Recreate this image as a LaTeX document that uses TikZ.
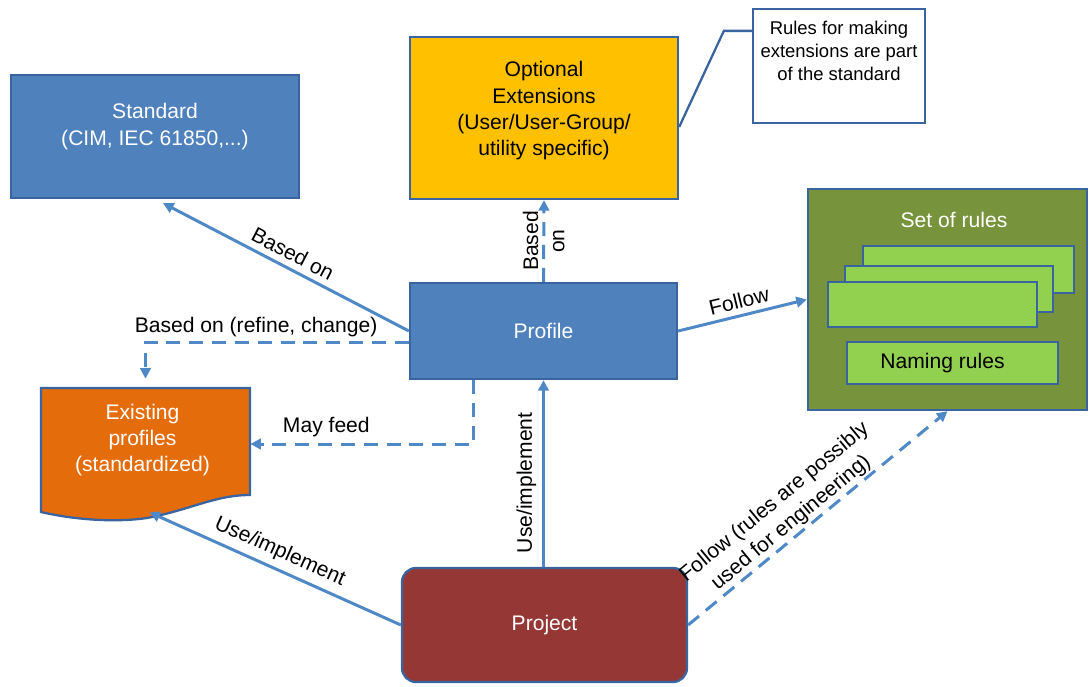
\documentclass[tikz,border=0pt]{standalone}
\usepackage{fontspec}
\setmainfont{Liberation Sans}
\usepackage{tikz}
\usepackage{xcolor}
\usetikzlibrary{calc,arrows.meta}

\definecolor{boxblue}{HTML}{4F81BD}
\definecolor{edgeblue}{HTML}{3A64A0}
\definecolor{lineblue}{HTML}{4F88C6}
\definecolor{extyellow}{HTML}{FFC000}
\definecolor{proforange}{HTML}{E46C0A}
\definecolor{projred}{HTML}{953735}
\definecolor{rulegreen}{HTML}{77933C}
\definecolor{lightgreen}{HTML}{92D050}

\begin{document}
\begin{tikzpicture}[x=0.2mm,y=-0.2mm]
        \tikzstyle{every node}=[font=\fontsize{12}{15}\selectfont]
        \tikzstyle{edge}=[draw=edgeblue,line width=1.3pt]
        \tikzstyle{box}=[edge,rectangle,inner sep=0pt]
        \tikzstyle{wtxt}=[text=white,align=center]
        \tikzstyle{link}=[draw=lineblue,line width=1.7pt,-{Triangle[length=6pt,width=6pt]}]
        \tikzstyle{dlink}=[link,dash pattern=on 8pt off 5pt]
        \useasboundingbox (0,0) rectangle (1089,686);

        % boxes
        \node[box,fill=boxblue,minimum width=57.6mm,minimum height=24.6mm] (std) at (155,136.5) {};
        \node[wtxt] (stdtxt) at ($(std)+(0,-10)$) {Standard\\(CIM, IEC 61850,...)};

        \node[box,fill=extyellow,minimum width=53.6mm,minimum height=32.4mm] (ext) at (544,118) {};
        \node[align=center] (exttxt) at ($(ext)+(0,-7)$) {Optional\\Extensions\\(User/User-Group/\\utility specific)};

        \node[box,fill=white,minimum width=34.4mm,minimum height=22.8mm,align=center,
              font=\fontsize{10.5}{13}\selectfont] (note) at (839,66)
              {Rules for making\\extensions are part\\of the standard\\[4pt]};
        \draw[edge] ($(note.north west)+(0,23)$) -- ++(-28,0) coordinate (elbow) -- ($(ext.east)+(0,9)$);

        \node[box,fill=boxblue,text=white,minimum width=53.4mm,minimum height=19.2mm] (prof) at (543.5,331) {Profile};

        \node[box,fill=projred,text=white,rounded corners=8pt,minimum width=57mm,minimum height=22.8mm] (proj) at (544.5,625) {Project};

        % existing profiles (document shape)
        \node[minimum width=41.8mm,minimum height=22.4mm,inner sep=0pt] (exist) at (145.5,444) {};
        \draw[edge,fill=proforange] (41,388) -- (250,388) -- (250,495)
              .. controls (215,495) and (190,510) .. (147,518)
              .. controls (120,522) and (80,521) .. (41,512) -- cycle;
        \node[wtxt] (existtxt) at ($(exist)+(-3,-4)$) {Existing\\profiles\\(standardized)};

        % set of rules
        \node[box,fill=rulegreen,minimum width=55.8mm,minimum height=44.2mm] (rules) at (947.5,299.5) {};
        \node[text=white] (rulestxt) at (954,220) {Set of rules};
        \node[box,fill=lightgreen,minimum width=42.2mm,minimum height=9.4mm] (r1) at (968.5,269.5) {};
        \node[box,fill=lightgreen,minimum width=41.6mm,minimum height=9.2mm] (r2) at (949,289) {};
        \node[box,fill=lightgreen,minimum width=41.8mm,minimum height=9mm] (r3) at (932.5,304.5) {};
        \node[box,fill=lightgreen,minimum width=42.2mm,minimum height=8.4mm] (naming) at (952.5,363) {};
        \node (namingtxt) at ($(naming)+(-10,0)$) {Naming rules};

        % connectors
        \draw[link] (prof.west) -- ($(std.south)+(8,4)$)
              node[pos=0.5,sloped,above] {Based on};
        \draw[dlink] ($(prof.west)+(0,11)$) -| ($(exist.north)+(0,-9)$)
              node[pos=0.29,above,inner sep=2pt] {Based on (refine, change)};
        \draw[dlink] ($(prof.south west)+(65,0)$) |- (exist.east)
              node[pos=0.83,above] {May feed};
        \draw[dlink] (prof.north) -- (ext.south)
              node[midway,rotate=90,align=center] {Based\\on};
        \draw[link] (prof.east) -- (rules.west)
              node[midway,sloped,above] {Follow};
        \draw[link] (prof.south |- proj.north) -- (prof.south)
              node[pos=0.45,sloped,above] {Use/implement};
        \draw[link] (proj.west) -- ($(exist.south)+(4,12)$)
              node[pos=0.51,sloped,above] {Use/implement};
        \draw[dlink] (proj.east) -- (rules.south)
              node[pos=0.43,sloped,above,align=center,inner sep=1pt] {Follow (rules are possibly\\used for engineering)};
    \end{tikzpicture}
\end{document}
